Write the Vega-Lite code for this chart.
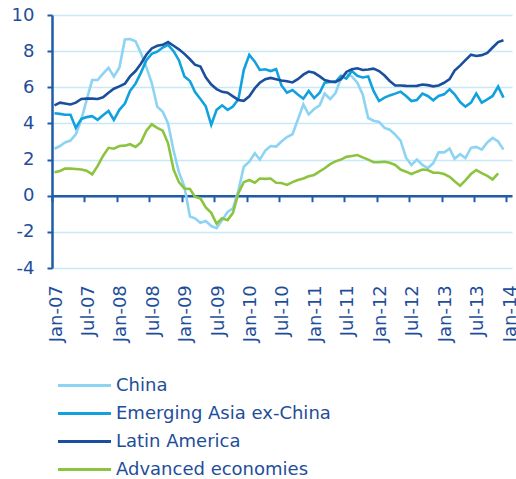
{
  "$schema": "https://vega.github.io/schema/vega-lite/v6.json",
  "width": 460,
  "height": 253,
  "autosize": {"type": "none"},
  "padding": {"left": 52, "top": 15, "right": 4, "bottom": 211},
  "background": "white",
  "config": {"view": {"stroke": null}, "font": "DejaVu Sans"},
  "data": {"values": [
    {"date":"2007-01-15","China":2.6,"Emerging Asia ex-China":4.56,"Latin America":5.0,"Advanced economies":1.3},
    {"date":"2007-02-15","China":2.75,"Emerging Asia ex-China":4.53,"Latin America":5.15,"Advanced economies":1.37},
    {"date":"2007-03-15","China":2.95,"Emerging Asia ex-China":4.48,"Latin America":5.1,"Advanced economies":1.5},
    {"date":"2007-04-15","China":3.05,"Emerging Asia ex-China":4.48,"Latin America":5.05,"Advanced economies":1.5},
    {"date":"2007-05-15","China":3.4,"Emerging Asia ex-China":3.75,"Latin America":5.15,"Advanced economies":1.48},
    {"date":"2007-06-15","China":4.2,"Emerging Asia ex-China":4.25,"Latin America":5.35,"Advanced economies":1.45},
    {"date":"2007-07-15","China":5.3,"Emerging Asia ex-China":4.35,"Latin America":5.37,"Advanced economies":1.38},
    {"date":"2007-08-15","China":6.4,"Emerging Asia ex-China":4.4,"Latin America":5.37,"Advanced economies":1.18},
    {"date":"2007-09-15","China":6.4,"Emerging Asia ex-China":4.2,"Latin America":5.35,"Advanced economies":1.65},
    {"date":"2007-10-15","China":6.75,"Emerging Asia ex-China":4.45,"Latin America":5.45,"Advanced economies":2.2},
    {"date":"2007-11-15","China":7.08,"Emerging Asia ex-China":4.69,"Latin America":5.7,"Advanced economies":2.65},
    {"date":"2007-12-15","China":6.6,"Emerging Asia ex-China":4.2,"Latin America":5.92,"Advanced economies":2.6},
    {"date":"2008-01-15","China":7.08,"Emerging Asia ex-China":4.75,"Latin America":6.05,"Advanced economies":2.75},
    {"date":"2008-02-15","China":8.65,"Emerging Asia ex-China":5.1,"Latin America":6.2,"Advanced economies":2.77},
    {"date":"2008-03-15","China":8.67,"Emerging Asia ex-China":5.8,"Latin America":6.6,"Advanced economies":2.85},
    {"date":"2008-04-15","China":8.55,"Emerging Asia ex-China":6.2,"Latin America":6.9,"Advanced economies":2.7},
    {"date":"2008-05-15","China":7.9,"Emerging Asia ex-China":6.8,"Latin America":7.3,"Advanced economies":2.95},
    {"date":"2008-06-15","China":7.1,"Emerging Asia ex-China":7.5,"Latin America":7.8,"Advanced economies":3.6},
    {"date":"2008-07-15","China":6.25,"Emerging Asia ex-China":7.85,"Latin America":8.15,"Advanced economies":3.95},
    {"date":"2008-08-15","China":4.93,"Emerging Asia ex-China":7.97,"Latin America":8.3,"Advanced economies":3.75},
    {"date":"2008-09-15","China":4.65,"Emerging Asia ex-China":8.2,"Latin America":8.35,"Advanced economies":3.6},
    {"date":"2008-10-15","China":4.0,"Emerging Asia ex-China":8.35,"Latin America":8.5,"Advanced economies":2.9},
    {"date":"2008-11-15","China":2.5,"Emerging Asia ex-China":8.0,"Latin America":8.3,"Advanced economies":1.45},
    {"date":"2008-12-15","China":1.3,"Emerging Asia ex-China":7.5,"Latin America":8.1,"Advanced economies":0.75},
    {"date":"2009-01-15","China":0.5,"Emerging Asia ex-China":6.6,"Latin America":7.85,"Advanced economies":0.4},
    {"date":"2009-02-15","China":-1.15,"Emerging Asia ex-China":6.35,"Latin America":7.55,"Advanced economies":0.37},
    {"date":"2009-03-15","China":-1.25,"Emerging Asia ex-China":5.75,"Latin America":7.25,"Advanced economies":-0.05},
    {"date":"2009-04-15","China":-1.5,"Emerging Asia ex-China":5.35,"Latin America":7.15,"Advanced economies":-0.15},
    {"date":"2009-05-15","China":-1.4,"Emerging Asia ex-China":4.95,"Latin America":6.55,"Advanced economies":-0.65},
    {"date":"2009-06-15","China":-1.68,"Emerging Asia ex-China":3.92,"Latin America":6.15,"Advanced economies":-0.95},
    {"date":"2009-07-15","China":-1.8,"Emerging Asia ex-China":4.75,"Latin America":5.9,"Advanced economies":-1.55},
    {"date":"2009-08-15","China":-1.35,"Emerging Asia ex-China":5.0,"Latin America":5.75,"Advanced economies":-1.25},
    {"date":"2009-09-15","China":-0.9,"Emerging Asia ex-China":4.75,"Latin America":5.7,"Advanced economies":-1.35},
    {"date":"2009-10-15","China":-0.7,"Emerging Asia ex-China":4.93,"Latin America":5.5,"Advanced economies":-0.95},
    {"date":"2009-11-15","China":0.3,"Emerging Asia ex-China":5.35,"Latin America":5.3,"Advanced economies":0.15},
    {"date":"2009-12-15","China":1.6,"Emerging Asia ex-China":6.96,"Latin America":5.25,"Advanced economies":0.75},
    {"date":"2010-01-15","China":1.88,"Emerging Asia ex-China":7.8,"Latin America":5.5,"Advanced economies":0.87},
    {"date":"2010-02-15","China":2.35,"Emerging Asia ex-China":7.42,"Latin America":5.95,"Advanced economies":0.72},
    {"date":"2010-03-15","China":2.0,"Emerging Asia ex-China":6.96,"Latin America":6.25,"Advanced economies":0.95},
    {"date":"2010-04-15","China":2.5,"Emerging Asia ex-China":7.0,"Latin America":6.45,"Advanced economies":0.93},
    {"date":"2010-05-15","China":2.75,"Emerging Asia ex-China":6.9,"Latin America":6.52,"Advanced economies":0.95},
    {"date":"2010-06-15","China":2.72,"Emerging Asia ex-China":7.0,"Latin America":6.45,"Advanced economies":0.72},
    {"date":"2010-07-15","China":3.0,"Emerging Asia ex-China":6.1,"Latin America":6.38,"Advanced economies":0.7},
    {"date":"2010-08-15","China":3.25,"Emerging Asia ex-China":5.7,"Latin America":6.33,"Advanced economies":0.6},
    {"date":"2010-09-15","China":3.4,"Emerging Asia ex-China":5.85,"Latin America":6.27,"Advanced economies":0.75},
    {"date":"2010-10-15","China":4.2,"Emerging Asia ex-China":5.6,"Latin America":6.45,"Advanced economies":0.87},
    {"date":"2010-11-15","China":5.05,"Emerging Asia ex-China":5.37,"Latin America":6.7,"Advanced economies":0.95},
    {"date":"2010-12-15","China":4.5,"Emerging Asia ex-China":5.8,"Latin America":6.87,"Advanced economies":1.08},
    {"date":"2011-01-15","China":4.8,"Emerging Asia ex-China":5.4,"Latin America":6.8,"Advanced economies":1.15},
    {"date":"2011-02-15","China":5.0,"Emerging Asia ex-China":5.7,"Latin America":6.6,"Advanced economies":1.35},
    {"date":"2011-03-15","China":5.65,"Emerging Asia ex-China":6.25,"Latin America":6.4,"Advanced economies":1.52},
    {"date":"2011-04-15","China":5.35,"Emerging Asia ex-China":6.3,"Latin America":6.32,"Advanced economies":1.75},
    {"date":"2011-05-15","China":5.68,"Emerging Asia ex-China":6.3,"Latin America":6.3,"Advanced economies":1.9},
    {"date":"2011-06-15","China":6.5,"Emerging Asia ex-China":6.63,"Latin America":6.45,"Advanced economies":2.0},
    {"date":"2011-07-15","China":6.75,"Emerging Asia ex-China":6.48,"Latin America":6.85,"Advanced economies":2.15},
    {"date":"2011-08-15","China":6.6,"Emerging Asia ex-China":6.9,"Latin America":7.0,"Advanced economies":2.2},
    {"date":"2011-09-15","China":6.25,"Emerging Asia ex-China":6.63,"Latin America":7.05,"Advanced economies":2.25},
    {"date":"2011-10-15","China":5.6,"Emerging Asia ex-China":6.54,"Latin America":6.96,"Advanced economies":2.12},
    {"date":"2011-11-15","China":4.3,"Emerging Asia ex-China":6.6,"Latin America":6.98,"Advanced economies":2.0},
    {"date":"2011-12-15","China":4.15,"Emerging Asia ex-China":5.8,"Latin America":7.03,"Advanced economies":1.85},
    {"date":"2012-01-15","China":4.08,"Emerging Asia ex-China":5.24,"Latin America":6.9,"Advanced economies":1.85},
    {"date":"2012-02-15","China":3.75,"Emerging Asia ex-China":5.43,"Latin America":6.65,"Advanced economies":1.88},
    {"date":"2012-03-15","China":3.65,"Emerging Asia ex-China":5.55,"Latin America":6.35,"Advanced economies":1.82},
    {"date":"2012-04-15","China":3.38,"Emerging Asia ex-China":5.65,"Latin America":6.1,"Advanced economies":1.7},
    {"date":"2012-05-15","China":3.05,"Emerging Asia ex-China":5.76,"Latin America":6.1,"Advanced economies":1.45},
    {"date":"2012-06-15","China":2.1,"Emerging Asia ex-China":5.52,"Latin America":6.08,"Advanced economies":1.33},
    {"date":"2012-07-15","China":1.7,"Emerging Asia ex-China":5.24,"Latin America":6.07,"Advanced economies":1.2},
    {"date":"2012-08-15","China":2.0,"Emerging Asia ex-China":5.3,"Latin America":6.08,"Advanced economies":1.33},
    {"date":"2012-09-15","China":1.7,"Emerging Asia ex-China":5.65,"Latin America":6.15,"Advanced economies":1.45},
    {"date":"2012-10-15","China":1.53,"Emerging Asia ex-China":5.52,"Latin America":6.12,"Advanced economies":1.42},
    {"date":"2012-11-15","China":1.8,"Emerging Asia ex-China":5.28,"Latin America":6.05,"Advanced economies":1.27},
    {"date":"2012-12-15","China":2.4,"Emerging Asia ex-China":5.52,"Latin America":6.1,"Advanced economies":1.27},
    {"date":"2013-01-15","China":2.4,"Emerging Asia ex-China":5.61,"Latin America":6.25,"Advanced economies":1.2},
    {"date":"2013-02-15","China":2.6,"Emerging Asia ex-China":5.89,"Latin America":6.45,"Advanced economies":1.05},
    {"date":"2013-03-15","China":2.05,"Emerging Asia ex-China":5.61,"Latin America":6.92,"Advanced economies":0.8},
    {"date":"2013-04-15","China":2.3,"Emerging Asia ex-China":5.18,"Latin America":7.2,"Advanced economies":0.55},
    {"date":"2013-05-15","China":2.08,"Emerging Asia ex-China":4.93,"Latin America":7.5,"Advanced economies":0.85},
    {"date":"2013-06-15","China":2.65,"Emerging Asia ex-China":5.15,"Latin America":7.8,"Advanced economies":1.2},
    {"date":"2013-07-15","China":2.7,"Emerging Asia ex-China":5.65,"Latin America":7.73,"Advanced economies":1.42},
    {"date":"2013-08-15","China":2.55,"Emerging Asia ex-China":5.15,"Latin America":7.78,"Advanced economies":1.25},
    {"date":"2013-09-15","China":2.95,"Emerging Asia ex-China":5.33,"Latin America":7.9,"Advanced economies":1.1},
    {"date":"2013-10-15","China":3.2,"Emerging Asia ex-China":5.52,"Latin America":8.2,"Advanced economies":0.9},
    {"date":"2013-11-15","China":3.0,"Emerging Asia ex-China":6.04,"Latin America":8.5,"Advanced economies":1.24},
    {"date":"2013-12-15","China":2.55,"Emerging Asia ex-China":5.43,"Latin America":8.6}
  ]},
  "transform": [
    {"fold": ["China", "Emerging Asia ex-China", "Latin America", "Advanced economies"], "as": ["series", "value"]}
  ],
  "mark": {"type": "line", "strokeWidth": 2.6, "interpolate": "linear"},
  "encoding": {
    "x": {
      "field": "date",
      "type": "temporal",
      "scale": {"domain": [{"year": 2007, "month": 1, "date": 1}, {"year": 2014, "month": 2, "date": 1}]},
      "axis": {
        "title": null,
        "offset": -72.3,
        "grid": false,
        "domain": true,
        "ticks": true,
        "domainColor": "#1F5BA8",
        "domainWidth": 2.5,
        "tickColor": "#1F5BA8",
        "tickWidth": 2,
        "tickSize": 6,
        "tickCount": {"interval": "month", "step": 6},
        "format": "%b-%y",
        "labelAngle": -90,
        "labelFontSize": 18,
        "labelColor": "#1E4E9B",
        "labelPadding": 83,
        "labelOffset": 4,
        "labelFlush": false,
        "labelOverlap": false,
        "labelBound": false
      }
    },
    "y": {
      "field": "value",
      "type": "quantitative",
      "scale": {"domain": [-4, 10], "nice": false},
      "axis": {
        "title": null,
        "values": [-4, -2, 0, 2, 4, 6, 8, 10],
        "labelExpr": "'' + datum.value",
        "grid": true,
        "domain": true,
        "ticks": true,
        "gridColor": "#C6E8F7",
        "gridWidth": 1.5,
        "domainColor": "#1F5BA8",
        "domainWidth": 2.5,
        "tickColor": "#1F5BA8",
        "tickWidth": 2,
        "tickSize": 5,
        "labelFontSize": 18,
        "labelColor": "#1E4E9B",
        "labelPadding": 13
      }
    },
    "color": {
      "field": "series",
      "type": "nominal",
      "scale": {
        "domain": ["China", "Emerging Asia ex-China", "Latin America", "Advanced economies"],
        "range": ["#8DD3F3", "#12A1DF", "#1A4F9D", "#8CC43F"]
      },
      "legend": {
        "title": null,
        "orient": "none",
        "legendX": 22,
        "legendY": 360,
        "direction": "vertical",
        "symbolType": "M-3,0H3",
        "symbolSize": 312,
        "symbolStrokeWidth": 3,
        "labelFontSize": 18,
        "labelColor": "#1E4E9B",
        "labelOffset": 21,
        "rowPadding": 8,
        "padding": 0,
        "labelLimit": 400
      }
    }
  }
}
